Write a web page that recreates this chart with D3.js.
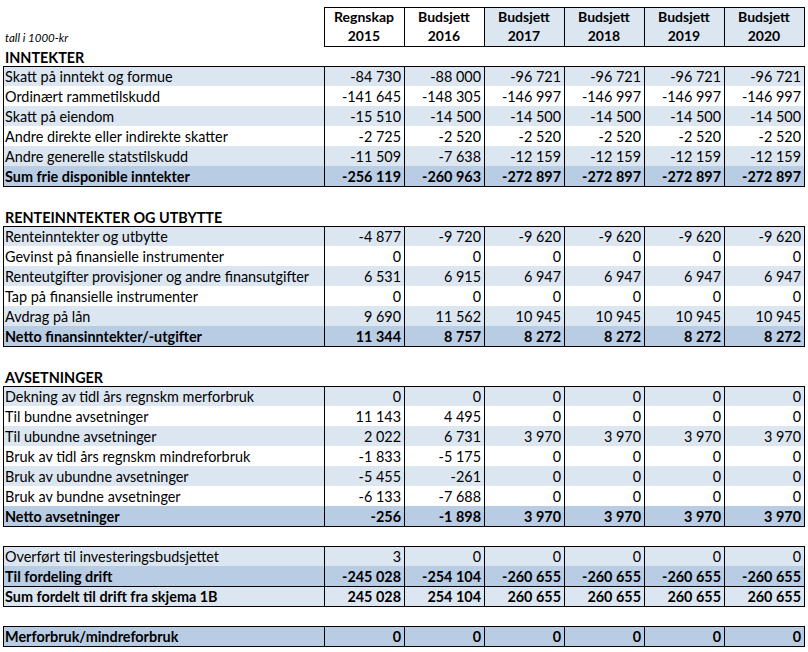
<!DOCTYPE html>
<html><head><meta charset="utf-8">
<script src="https://cdn.jsdelivr.net/npm/d3@7"></script>
<style>body{margin:0;background:#fff}svg{display:block}</style>
</head><body><script>
const colTypes = ["Regnskap","Budsjett","Budsjett","Budsjett","Budsjett","Budsjett"];
const colYears = ["2015","2016","2017","2018","2019","2020"];
const unitNote = "tall i 1000-kr";

const inntekterTitle = "INNTEKTER";
const inntekterLabels = ["Skatt på inntekt og formue","Ordinært rammetilskudd","Skatt på eiendom","Andre direkte eller indirekte skatter","Andre generelle statstilskudd","Sum frie disponible inntekter"];
const inntekterValues = [
  [-84730,-88000,-96721,-96721,-96721,-96721],
  [-141645,-148305,-146997,-146997,-146997,-146997],
  [-15510,-14500,-14500,-14500,-14500,-14500],
  [-2725,-2520,-2520,-2520,-2520,-2520],
  [-11509,-7638,-12159,-12159,-12159,-12159],
  [-256119,-260963,-272897,-272897,-272897,-272897]
];
const inntekterKinds = ["n","n","n","n","n","sum"];

const renteTitle = "RENTEINNTEKTER OG UTBYTTE";
const renteLabels = ["Renteinntekter og utbytte","Gevinst på finansielle instrumenter","Renteutgifter provisjoner og andre finansutgifter","Tap på finansielle instrumenter","Avdrag på lån","Netto finansinntekter/-utgifter"];
const renteValues = [
  [-4877,-9720,-9620,-9620,-9620,-9620],
  [0,0,0,0,0,0],
  [6531,6915,6947,6947,6947,6947],
  [0,0,0,0,0,0],
  [9690,11562,10945,10945,10945,10945],
  [11344,8757,8272,8272,8272,8272]
];
const renteKinds = ["n","n","n","n","n","sum"];

const avsetTitle = "AVSETNINGER";
const avsetLabels = ["Dekning av tidl års regnskm merforbruk","Til bundne avsetninger","Til ubundne avsetninger","Bruk av tidl års regnskm mindreforbruk","Bruk av ubundne avsetninger","Bruk av bundne avsetninger","Netto avsetninger"];
const avsetValues = [
  [0,0,0,0,0,0],
  [11143,4495,0,0,0,0],
  [2022,6731,3970,3970,3970,3970],
  [-1833,-5175,0,0,0,0],
  [-5455,-261,0,0,0,0],
  [-6133,-7688,0,0,0,0],
  [-256,-1898,3970,3970,3970,3970]
];
const avsetKinds = ["n","n","n","n","n","n","sum"];

const driftLabels = ["Overført til investeringsbudsjettet","Til fordeling drift","Sum fordelt til drift fra skjema 1B"];
const driftValues = [
  [3,0,0,0,0,0],
  [-245028,-254104,-260655,-260655,-260655,-260655],
  [245028,254104,260655,260655,260655,260655]
];
const driftKinds = ["n","sum","sumlight"];

const resultLabels = ["Merforbruk/mindreforbruk"];
const resultValues = [[0,0,0,0,0,0]];
const resultKinds = ["sum"];

// ---------- layout ----------
const W = 808, H = 652;
const LIGHT = "#dce6f1", DARK = "#b8cce4";
const FONT = "Lato, 'Open Sans', sans-serif";
const FS = 14.4;
const fmt = d3.formatLocale({decimal:",", thousands:"\u00a0", grouping:[3], currency:["",""], minus:"-"}).format(",d");

const lines = [];
lines.push({t:"header", k:0});
lines.push({t:"header", k:1});
const tables = [];
function addSection(title, labels, values, kinds, blankAfter){
  if (title) lines.push({t:"heading", text:title});
  const start = lines.length;
  labels.forEach((l,i)=>lines.push({t:"row", label:l, values:values[i], kind:kinds[i], idx:i, sepAbove: kinds[i]==="sumlight"}));
  tables.push({start, end: lines.length-1});
  if (blankAfter) lines.push({t:"blank"});
}
addSection(inntekterTitle, inntekterLabels, inntekterValues, inntekterKinds, true);
addSection(renteTitle, renteLabels, renteValues, renteKinds, true);
addSection(avsetTitle, avsetLabels, avsetValues, avsetKinds, true);
addSection(null, driftLabels, driftValues, driftKinds, true);
addSection(null, resultLabels, resultValues, resultKinds, false);

const y = d3.scaleBand().domain(d3.range(lines.length)).range([6, 6 + 20*lines.length]);
const x = d3.scaleBand().domain(colYears).range([324, 804]);
const LEFT = 3, LABELX = 5;

const svg = d3.select("body").append("svg").attr("width", W).attr("height", H)
  .style("font-family", FONT);

// header fills
const hTop = y(0)+1, hBot = y(1)+y.bandwidth();
svg.append("g").selectAll("rect").data(colYears.filter((d,i)=>i>=2)).join("rect")
  .attr("x", d=>x(d)).attr("y", hTop).attr("width", x.bandwidth()).attr("height", hBot-hTop)
  .attr("fill", LIGHT);
// header text
const hg = svg.append("g").attr("font-weight", "bold").attr("font-size", 14).attr("text-anchor","middle");
colYears.forEach((yr,i)=>{
  hg.append("text").attr("x", x(yr)+x.bandwidth()/2).attr("y", y(0)+y.bandwidth()/2+1).attr("dy","0.35em").text(colTypes[i]);
  hg.append("text").attr("x", x(yr)+x.bandwidth()/2).attr("y", y(1)+y.bandwidth()/2).attr("dy","0.35em").text(yr);
});
svg.append("text").attr("x", LABELX).attr("y", y(1)+y.bandwidth()/2+2).attr("dy","0.35em")
  .attr("font-size", 11.5).attr("font-style","italic").text(unitNote);

// row fills and text
lines.forEach((ln,i)=>{
  const cy = y(i)+y.bandwidth()/2+1;
  if (ln.t==="heading"){
    svg.append("text").attr("x", LABELX).attr("y", cy+1).attr("dy","0.35em")
      .attr("font-weight","bold").attr("font-size",FS).text(ln.text);
  }
  if (ln.t==="row"){
    let fill = null;
    if (ln.kind==="sum") fill = DARK;
    else if (ln.kind==="sumlight") fill = LIGHT;
    else if (ln.idx % 2 === 0) fill = LIGHT;
    if (fill) svg.append("rect").attr("x", LEFT).attr("y", y(i)).attr("width", 804-LEFT).attr("height", y.bandwidth()).attr("fill", fill);
    const bold = ln.kind!=="n";
    svg.append("text").attr("x", LABELX).attr("y", cy).attr("dy","0.35em")
      .attr("font-size",FS).attr("font-weight", bold?"bold":"normal").text(ln.label);
    svg.append("g").selectAll("text").data(ln.values.map((v,j)=>({v, yr:colYears[j]}))).join("text")
      .attr("x", d=>x(d.yr)+x.bandwidth()-3).attr("y", cy).attr("dy","0.35em")
      .attr("text-anchor","end").attr("font-size",FS).attr("font-weight", bold?"bold":"normal")
      .text(d=>fmt(d.v));
  }
});

// borders
const bg = svg.append("g").attr("stroke","#000").attr("stroke-width",1).attr("fill","none").attr("shape-rendering","crispEdges");
// header box
bg.append("rect").attr("x", 324.5).attr("y", hTop+0.5).attr("width", 480).attr("height", hBot-hTop);
colYears.slice(1).forEach(yr=>bg.append("line").attr("x1", x(yr)+0.5).attr("x2", x(yr)+0.5).attr("y1", hTop).attr("y2", hBot));
tables.forEach(tb=>{
  const t0 = y(tb.start), t1 = y(tb.end)+y.bandwidth();
  bg.append("rect").attr("x", LEFT+0.5).attr("y", t0+0.5).attr("width", 804-LEFT).attr("height", t1-t0);
  colYears.forEach(yr=>bg.append("line").attr("x1", x(yr)+0.5).attr("x2", x(yr)+0.5).attr("y1", t0).attr("y2", t1));
  for (let i=tb.start;i<=tb.end;i++){
    if (lines[i].sepAbove) bg.append("line").attr("x1", LEFT).attr("x2", 804).attr("y1", y(i)+0.5).attr("y2", y(i)+0.5);
  }
});
</script></body></html>
